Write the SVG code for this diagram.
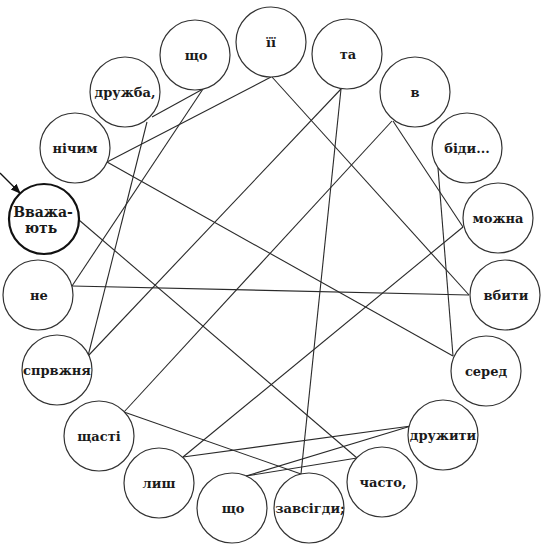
<svg xmlns="http://www.w3.org/2000/svg" width="544" height="549" viewBox="0 0 544 549">
<style>
.n circle{fill:#fff;stroke:#333;stroke-width:1.2}
.n text{font-family:"DejaVu Serif","Liberation Serif",serif;font-weight:bold;font-size:13px;fill:#1a1a1a;text-anchor:middle}
#start circle{stroke:#111;stroke-width:2.2}
#start text{font-size:14px}
.c line{stroke:#2a2a2a;stroke-width:1.1}
</style>
<defs>
<marker id="ah" markerWidth="10" markerHeight="10" refX="9" refY="5" orient="auto" markerUnits="userSpaceOnUse">
<path d="M0,1 L10,5 L0,9 Z" fill="#111"/>
</marker>
</defs>
<rect width="544" height="549" fill="#fff"/>
<g class="c" id="connectors">
<line x1="203" y1="89" x2="152" y2="117"/>
<line x1="203" y1="89" x2="72" y2="286"/>
<line x1="147" y1="122" x2="88" y2="356"/>
<line x1="107" y1="162" x2="271" y2="77"/>
<line x1="107" y1="162" x2="453" y2="356"/>
<line x1="341" y1="89" x2="88" y2="356"/>
<line x1="341" y1="89" x2="301" y2="474"/>
<line x1="272" y1="77" x2="469" y2="295"/>
<line x1="392" y1="121" x2="124" y2="412"/>
<line x1="393" y1="121" x2="463" y2="227"/>
<line x1="463" y1="227" x2="183" y2="457"/>
<line x1="438" y1="168" x2="453" y2="356"/>
<line x1="72" y1="286" x2="469" y2="295"/>
<line x1="79" y1="220" x2="357" y2="458"/>
<line x1="124" y1="412" x2="301" y2="474"/>
<line x1="183" y1="457" x2="411" y2="426"/>
<line x1="246" y1="476" x2="411" y2="426"/>
<line x1="246" y1="476" x2="357" y2="458"/>
<line x1="0" y1="173" x2="20" y2="193" marker-end="url(#ah)" style="stroke:#111;stroke-width:1.3"/>
</g>
<g class="n" id="start"><circle cx="44" cy="219" r="35"/><text x="43" y="217">Вважа-</text><text x="41" y="233">ють</text></g>
<g class="n" id="n-ne"><circle cx="38" cy="295" r="35"/><text x="39" y="300">не</text></g>
<g class="n" id="n-spravzhnia"><circle cx="57" cy="370" r="35"/><text x="57" y="375">спрвжня</text></g>
<g class="n" id="n-shchasti"><circle cx="99" cy="436" r="35"/><text x="99" y="441">щасті</text></g>
<g class="n" id="n-lysh"><circle cx="159" cy="483" r="35"/><text x="159" y="488">лиш</text></g>
<g class="n" id="n-shcho2"><circle cx="232" cy="508" r="35"/><text x="233" y="513">що</text></g>
<g class="n" id="n-zavsihdy"><circle cx="309" cy="508" r="35"/><text x="310" y="513">завсігди;</text></g>
<g class="n" id="n-chasto"><circle cx="382" cy="482" r="35"/><text x="383" y="487">часто,</text></g>
<g class="n" id="n-druzhyty"><circle cx="443" cy="435" r="35"/><text x="443" y="440">дружити</text></g>
<g class="n" id="n-sered"><circle cx="486" cy="371" r="35"/><text x="486" y="376">серед</text></g>
<g class="n" id="n-vbyty"><circle cx="505" cy="295" r="35"/><text x="506" y="300">вбити</text></g>
<g class="n" id="n-mozhna"><circle cx="498" cy="218" r="35"/><text x="498" y="223">можна</text></g>
<g class="n" id="n-bidy"><circle cx="467" cy="148" r="35"/><text x="467" y="153">біди...</text></g>
<g class="n" id="n-v"><circle cx="415" cy="92" r="35"/><text x="415" y="97">в</text></g>
<g class="n" id="n-ta"><circle cx="347" cy="54" r="35"/><text x="348" y="59">та</text></g>
<g class="n" id="n-yii"><circle cx="271" cy="42" r="35"/><text x="271" y="47">її</text></g>
<g class="n" id="n-shcho1"><circle cx="195" cy="55" r="35"/><text x="196" y="60">що</text></g>
<g class="n" id="n-druzhba"><circle cx="125" cy="92" r="35"/><text x="125" y="97">дружба,</text></g>
<g class="n" id="n-nichym"><circle cx="75" cy="148" r="35"/><text x="75" y="153">нічим</text></g>
</svg>
